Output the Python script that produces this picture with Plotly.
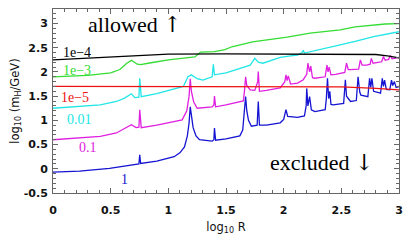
import plotly.graph_objects as go

# ---- data (log10 R, log10 mH/GeV) ----
blue_x = [0.00, 0.23, 0.49, 0.70, 0.745, 0.752, 0.76, 0.90, 1.05, 1.10, 1.14, 1.165, 1.18, 1.19, 1.20, 1.215, 1.24, 1.27,
          1.38, 1.395, 1.40, 1.41, 1.50, 1.62, 1.645, 1.66, 1.67, 1.68, 1.695, 1.72, 1.77, 1.78, 1.79, 1.85, 1.97, 2.00,
          2.02, 2.035, 2.06, 2.12, 2.18, 2.195, 2.20, 2.21, 2.225, 2.24, 2.27, 2.36, 2.37, 2.38, 2.39, 2.40, 2.41, 2.43,
          2.52, 2.535, 2.545, 2.58, 2.63, 2.645, 2.66, 2.67, 2.73, 2.745, 2.755, 2.765, 2.78, 2.84, 2.855, 2.865, 2.875,
          2.89, 2.92, 2.935, 2.945, 2.96, 2.975, 3.00]
blue_y = [-0.07, -0.05, 0.01, 0.08, 0.10, 0.29, 0.11, 0.16, 0.25, 0.33, 0.45, 0.68, 0.95, 1.28, 1.05, 0.85, 0.68, 0.60,
          0.57, 0.60, 0.84, 0.59, 0.62, 0.68, 0.80, 1.15, 1.49, 1.20, 1.00, 0.88, 0.90, 1.39, 0.90, 0.90, 0.95, 1.02,
          1.22, 1.08, 1.07, 1.06, 1.09, 1.30, 1.66, 1.30, 1.49, 1.22, 1.18, 1.22, 1.45, 1.87, 1.45, 1.60, 1.33, 1.32,
          1.35, 1.84, 1.50, 1.39, 1.41, 1.90, 1.58, 1.52, 1.49, 1.87, 1.68, 1.87, 1.60, 1.56, 1.87, 1.70, 1.83,
          1.64, 1.63, 1.83, 1.72, 1.80, 1.68, 1.70]

magenta_x = [0.00, 0.41, 0.55, 0.62, 0.68, 0.72, 0.745, 0.752, 0.765, 0.90, 1.12, 1.16, 1.18, 1.19, 1.20, 1.22, 1.25,
             1.38, 1.395, 1.40, 1.41, 1.50, 1.65, 1.66, 1.67, 1.68, 1.71, 1.75, 1.775, 1.78, 1.79, 1.85, 1.97, 2.01,
             2.02, 2.03, 2.04, 2.06, 2.12, 2.17, 2.20, 2.21, 2.225, 2.235, 2.25, 2.27, 2.36, 2.375, 2.385, 2.395, 2.41,
             2.45, 2.53, 2.545, 2.56, 2.58, 2.65, 2.665, 2.68, 2.72, 2.75, 2.76, 2.775, 2.85, 2.865, 2.88, 2.91, 2.925,
             2.94, 2.98, 3.00]
magenta_y = [0.60, 0.67, 0.74, 0.84, 0.91, 0.85, 0.86, 1.22, 0.85, 0.90, 1.01, 1.20, 1.50, 1.86, 1.60, 1.38, 1.25,
             1.28, 1.32, 1.50, 1.28, 1.32, 1.40, 1.60, 1.90, 1.72, 1.63, 1.62, 1.80, 2.01, 1.60, 1.62, 1.67, 1.80,
             1.94, 1.82, 1.92, 1.75, 1.77, 1.84, 1.95, 2.18, 2.00, 2.12, 1.88, 1.87, 1.90, 2.14, 2.00, 2.10, 1.94,
             1.95, 1.99, 2.18, 2.05, 2.05, 2.06, 2.25, 2.14, 2.14, 2.16, 2.28, 2.18, 2.21, 2.32, 2.24, 2.26, 2.34,
             2.27, 2.29, 2.30]

cyan_x = [0.00, 0.41, 0.55, 0.62, 0.68, 0.71, 0.745, 0.752, 0.765, 0.90, 1.13, 1.17, 1.20, 1.25, 1.30, 1.38, 1.39,
          1.40, 1.50, 1.71, 1.75, 1.78, 1.82, 1.97, 2.06, 2.12, 2.16, 2.17, 2.18, 2.23, 2.35, 2.49, 2.62, 2.78, 3.00]
cyan_y = [1.25, 1.32, 1.39, 1.46, 1.55, 1.47, 1.48, 1.87, 1.49, 1.55, 1.70, 1.90, 1.94, 1.86, 1.83, 1.90, 2.16,
          1.94, 1.98, 2.14, 2.28, 2.20, 2.18, 2.30, 2.33, 2.35, 2.40, 2.45, 2.39, 2.42, 2.48, 2.56, 2.63, 2.73, 2.83]

green_x = [0.00, 0.30, 0.50, 0.58, 0.64, 0.68, 0.73, 0.76, 0.85, 1.00, 1.23, 1.26, 1.28, 1.40, 1.49, 1.55, 1.73,
           2.03, 2.23, 2.49, 2.62, 2.88, 3.00]
green_y = [1.90, 1.93, 1.98, 2.05, 2.18, 2.24, 2.16, 2.15, 2.19, 2.25, 2.31, 2.36, 2.41, 2.42, 2.46, 2.52, 2.62,
           2.72, 2.80, 2.87, 2.93, 2.99, 3.00]

black_x = [0.00, 0.30, 0.75, 1.00, 1.50, 2.50, 2.80, 2.90, 3.00]
black_y = [2.25, 2.29, 2.35, 2.37, 2.375, 2.375, 2.36, 2.33, 2.29]

red_x = [0.00, 2.20, 2.50, 2.80, 3.00]
red_y = [1.70, 1.70, 1.69, 1.66, 1.63]

x_tickvals = [0, 0.5, 1, 1.5, 2, 2.5, 3]
x_ticktext = ["0", "0.5", "1", "1.5", "2", "2.5", "3"]
y_tickvals = [-0.5, 0, 0.5, 1, 1.5, 2, 2.5, 3]
y_ticktext = ["-0.5", "0", "0.5", "1", "1.5", "2", "2.5", "3"]

series = [
    ("1", blue_x, blue_y, "#1414d2"),
    ("0.1", magenta_x, magenta_y, "#e020e0"),
    ("0.01", cyan_x, cyan_y, "#22e6e6"),
    ("1e-3", green_x, green_y, "#33dd33"),
    ("1e-4", black_x, black_y, "#000000"),
    ("1e-5", red_x, red_y, "#ee1111"),
]

labels = ["1e\u22124", "1e\u22123", "1e\u22125", "0.01", "0.1", "1"]
label_x = [0.21, 0.21, 0.19, 0.23, 0.30, 0.62]
label_y = [2.41, 2.04, 1.48, 1.01, 0.43, -0.23]
label_col = ["#000000", "#33dd33", "#ee1111", "#22e6e6", "#e020e0", "#1414d2"]

fig = go.Figure()
for name, xs, ys, col in series:
    fig.add_trace(go.Scatter(x=xs, y=ys, mode="lines", name=name,
                             line=dict(color=col, width=1.3), showlegend=False))

for t, lx, ly, c in zip(labels, label_x, label_y, label_col):
    fig.add_annotation(x=lx, y=ly, text=t, showarrow=False, xanchor="center", yanchor="middle",
                       font=dict(family="Liberation Serif", size=14, color=c))

arrow_style = "font-family:'DejaVu Serif';color:#000000"
fig.add_annotation(x=0.71, y=2.97, text="allowed <span style=\"%s\">\u2191</span>" % arrow_style,
                   showarrow=False, xanchor="center", yanchor="middle",
                   font=dict(family="Liberation Serif", size=22, color="#000"))
fig.add_annotation(x=2.33, y=0.12, text="excluded <span style=\"%s\">\u2193</span>" % arrow_style,
                   showarrow=False, xanchor="center", yanchor="middle",
                   font=dict(family="Liberation Serif", size=22, color="#000"))

axis_common = dict(showgrid=False, zeroline=False, showline=True, linecolor="#666", linewidth=1,
                   mirror="allticks", ticks="inside", ticklen=5, tickcolor="#666", tickwidth=1,
                   automargin=False,
                   tickfont=dict(family="DejaVu Sans", size=11, color="#111", weight="bold"),
                   minor=dict(ticks="inside", ticklen=3, tickcolor="#666", dtick=0.1, showgrid=False))

fig.update_xaxes(range=[0, 3], tickmode="array", tickvals=x_tickvals, ticktext=x_ticktext,
                 ticklabelstandoff=7,
                 title=dict(text="log<sub>10</sub> R", font=dict(family="DejaVu Sans", size=11.5, color="#111"),
                            standoff=6), **axis_common)
fig.update_yaxes(range=[-0.5, 3.3], tickmode="array", tickvals=y_tickvals, ticktext=y_ticktext,
                 ticklabelstandoff=2,
                 title=dict(text="log<sub>10</sub> (m<sub>H</sub>/GeV)",
                            font=dict(family="DejaVu Sans", size=11.5, color="#111"), standoff=6), **axis_common)

# page body has an 8px default margin; size the figure so it fits the 415x240 window
fig.update_layout(width=407, height=232, margin=dict(l=45, r=16, t=1, b=47),
                  plot_bgcolor="white", paper_bgcolor="white")

fig.write_html("out.html")
